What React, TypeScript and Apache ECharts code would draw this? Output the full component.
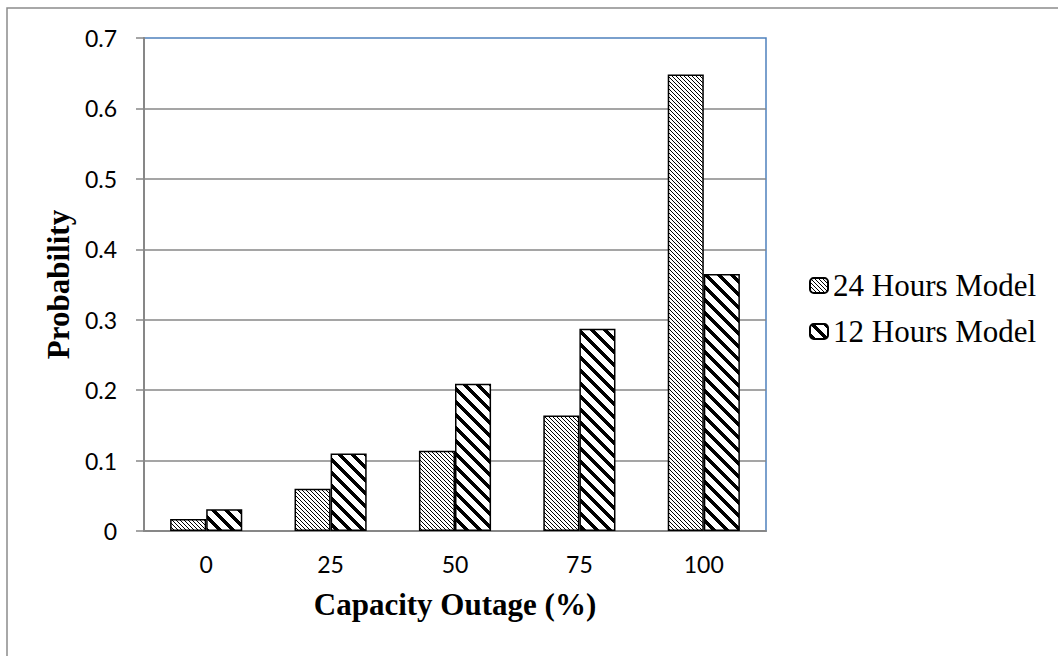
import React, { useEffect, useRef } from "react";
import * as echarts from "echarts";

// Capacity outage levels (%) and outage probabilities for each model
const categories = ["0", "25", "50", "75", "100"];
const model24h = [0.017, 0.06, 0.114, 0.164, 0.648];
const model12h = [0.031, 0.11, 0.209, 0.287, 0.365];
const seriesNames = ["24 Hours Model", "12 Hours Model"];
const yTicks = { min: 0, max: 0.7, interval: 0.1 };

// Builds a repeating diagonal hatch: pixel is ink when (x - y) mod period < ink
function hatch(period: number, ink: number): HTMLCanvasElement {
  const c = document.createElement("canvas");
  c.width = period;
  c.height = period;
  const ctx = c.getContext("2d")!;
  const img = ctx.createImageData(period, period);
  for (let y = 0; y < period; y++) {
    for (let x = 0; x < period; x++) {
      const on = (((x - y) % period) + period) % period < ink;
      const i = (y * period + x) * 4;
      const v = on ? 0 : 255;
      img.data[i] = v;
      img.data[i + 1] = v;
      img.data[i + 2] = v;
      img.data[i + 3] = 255;
    }
  }
  ctx.putImageData(img, 0, 0);
  return c;
}

export default function App() {
  const ref = useRef<HTMLDivElement>(null);

  useEffect(() => {
    if (!ref.current) return;
    const chart = echarts.init(ref.current, undefined, { renderer: "svg" });

    const fine = { image: hatch(4, 1), repeat: "repeat" } as any;
    const bold = { image: hatch(13, 5), repeat: "repeat" } as any;

    const axisGray = "#878787";
    const tickFont = { fontFamily: "Lato", fontSize: 23, color: "#000" };

    chart.setOption({
      animation: false,
      backgroundColor: "#fff",
      graphic: [
        {
          type: "rect",
          shape: { x: 7, y: 8, width: 1100, height: 700 },
          style: { fill: "none", stroke: "#8c8c8c", lineWidth: 1.5 },
          silent: true,
          z: -10,
        },
      ],
      grid: {
        left: 144,
        top: 38,
        right: 292,
        bottom: 125,
        show: true,
        borderColor: "#4f81bd",
        borderWidth: 1.5,
        backgroundColor: "transparent",
      },
      legend: {
        orient: "vertical",
        left: 804,
        top: 265,
        itemWidth: 18,
        itemHeight: 15,
        itemGap: 15,
        textStyle: { fontFamily: "Liberation Serif", fontSize: 31, color: "#000" },
        data: seriesNames,
      },
      xAxis: {
        type: "category",
        data: categories,
        name: "Capacity Outage (%)",
        nameLocation: "middle",
        nameGap: 58,
        nameTextStyle: {
          fontFamily: "Liberation Serif",
          fontWeight: "bold",
          fontSize: 31,
          color: "#000",
        },
        axisLine: { lineStyle: { color: axisGray, width: 2 } },
        axisTick: { show: false },
        axisLabel: { ...tickFont, margin: 21 },
      },
      yAxis: {
        type: "value",
        min: yTicks.min,
        max: yTicks.max,
        interval: yTicks.interval,
        name: "Probability",
        nameLocation: "middle",
        nameGap: 66,
        nameTextStyle: {
          fontFamily: "Liberation Serif",
          fontWeight: "bold",
          fontSize: 31,
          color: "#000",
        },
        axisLine: { show: true, lineStyle: { color: axisGray, width: 2 } },
        axisTick: { show: true, length: 8, lineStyle: { color: axisGray, width: 1.5 } },
        axisLabel: { ...tickFont, margin: 27, formatter: (v: number) => String(+v.toFixed(1)) },
        splitLine: {
          show: true,
          showMinLine: false,
          showMaxLine: false,
          lineStyle: { color: axisGray, width: 1.5 },
        },
      },
      series: [
        {
          name: seriesNames[0],
          type: "bar",
          data: model24h,
          barGap: "0%",
          barCategoryGap: "42%",
          itemStyle: { color: fine, borderColor: "#000", borderWidth: 1.5 },
        },
        {
          name: seriesNames[1],
          type: "bar",
          data: model12h,
          barGap: "0%",
          barCategoryGap: "42%",
          itemStyle: { color: bold, borderColor: "#000", borderWidth: 1.5 },
        },
      ],
    });

    return () => chart.dispose();
  }, []);

  return (
    <div
      ref={ref}
      style={{ position: "fixed", left: 0, top: 0, width: 1058, height: 656 }}
    />
  );
}
